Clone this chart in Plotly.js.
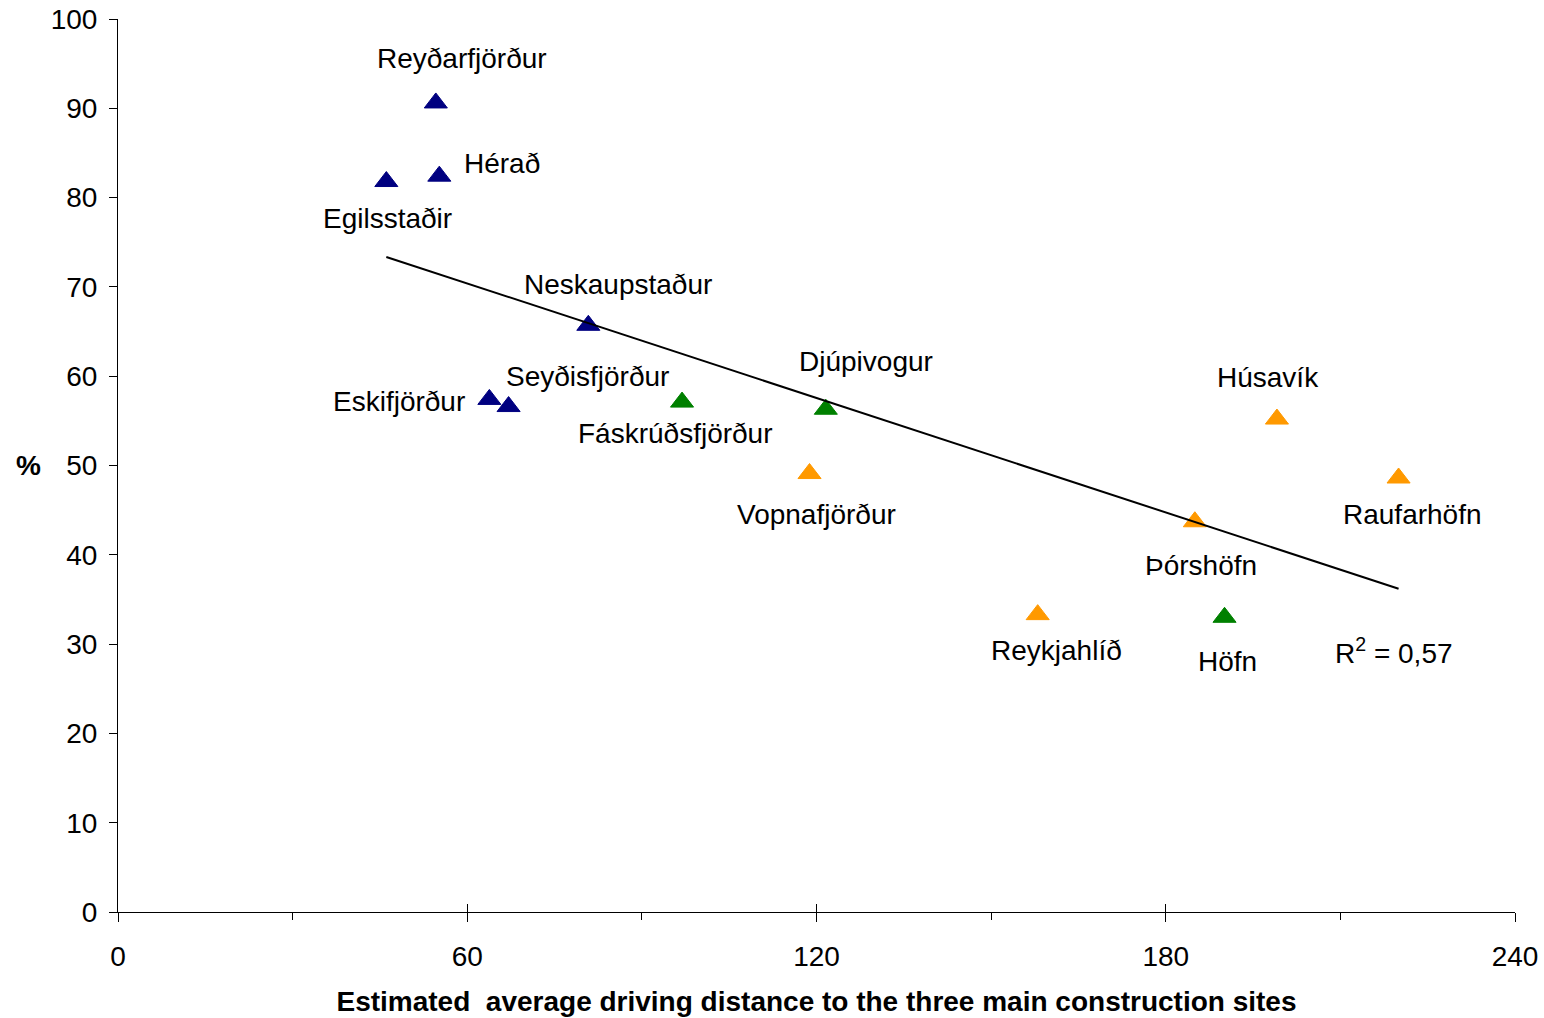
<!DOCTYPE html>
<html>
<head>
<meta charset="utf-8">
<script src="https://cdn.plot.ly/plotly-3.0.1.min.js"></script>
<style>
html,body{margin:0;padding:0;background:#fff;}
#chart{width:1544px;height:1018px;}
</style>
</head>
<body>
<div id="chart"></div>
<script>
// ---- data ----
const towns = ['Reyðarfjörður','Hérað','Egilsstaðir','Neskaupstaður','Eskifjörður','Seyðisfjörður',
               'Fáskrúðsfjörður','Djúpivogur','Vopnafjörður','Húsavík','Raufarhöfn','Þórshöfn','Reykjahlíð','Höfn'];
const distance = [54.6, 55.2, 46.1, 80.8, 63.8, 67.1, 96.9, 121.6, 118.8, 199.1, 220.0, 185.0, 158.0, 190.1];
const percent  = [90.6, 82.4, 81.8, 65.7, 57.4, 56.6, 57.1, 56.3, 49.1, 55.2, 48.6, 43.7, 33.3, 33.0];
const group    = ['east','east','east','east','east','east','south','south','north','north','north','north','north','south'];
const groupOrder = ['east','south','north'];
const xTicks = [0, 60, 120, 180, 240];
const xMinorTicks = [30, 90, 150, 210];
const yTicks = [0, 10, 20, 30, 40, 50, 60, 70, 80, 90, 100];
const xTitle = 'Estimated  average driving distance to the three main construction sites';
const yTitle = '%';

// ---- styles / layout helpers ----
const groupColor = {east:'#000080', south:'#008000', north:'#FF9900'};
// label offset in pixels (dx right, dy down) from each marker
const labelShift = {
  'Reyðarfjörður':[26,-44], 'Hérað':[63,-13], 'Egilsstaðir':[1,37], 'Neskaupstaður':[30,-41],
  'Seyðisfjörður':[79,-30], 'Eskifjörður':[-90,2], 'Fáskrúðsfjörður':[-7,31], 'Djúpivogur':[40,-48],
  'Vopnafjörður':[7,41], 'Húsavík':[-9,-42], 'Raufarhöfn':[14,36], 'Þórshöfn':[6,44],
  'Reykjahlíð':[19,36], 'Höfn':[3,44]
};
const FONT = 'Liberation Sans, Arial, sans-serif';
const FS = 28;

// ---- traces ----
const traces = groupOrder.map(g => {
  const idx = towns.map((t,i)=>i).filter(i => group[i] === g);
  return {
    type:'scatter', mode:'markers',
    x: idx.map(i=>distance[i]), y: idx.map(i=>percent[i]),
    name: g, showlegend:false, hoverinfo:'skip',
    marker:{symbol:'triangle-up', size:20, color:groupColor[g], line:{width:1, color:groupColor[g]}}
  };
});

// linear trend (least squares)
const n = distance.length;
const mx = distance.reduce((a,b)=>a+b,0)/n;
const my = percent.reduce((a,b)=>a+b,0)/n;
let sxy=0, sxx=0, syy=0;
for(let i=0;i<n;i++){ const dx=distance[i]-mx, dy=percent[i]-my; sxy+=dx*dy; sxx+=dx*dx; syy+=dy*dy; }
const slope = sxy/sxx, icpt = my - slope*mx;
const r2 = (sxy*sxy)/(sxx*syy);
const xmin = Math.min(...distance), xmax = Math.max(...distance);
traces.push({
  type:'scatter', mode:'lines', xaxis:'x2', yaxis:'y',
  x:[xmin, xmax], y:[icpt+slope*xmin, icpt+slope*xmax],
  line:{color:'#000000', width:2}, showlegend:false, hoverinfo:'skip'
});

// ---- annotations ----
const annotations = towns.map((t,i) => ({
  x: distance[i], y: percent[i], xref:'x', yref:'y', text: t, showarrow:false,
  xanchor:'center', yanchor:'middle',
  xshift: labelShift[t][0], yshift: -labelShift[t][1],
  font:{family:FONT, size:FS, color:'#000'}
}));
annotations.push({
  x: xmax, y: icpt+slope*xmax, xref:'x', yref:'y',
  text: 'R<sup>2</sup> = ' + r2.toFixed(2).replace('.', ','), showarrow:false,
  xanchor:'center', yanchor:'middle', xshift:-5, yshift:-62,
  font:{family:FONT, size:FS, color:'#000'}
});
annotations.push({
  x: 0, y: 50, xref:'paper', yref:'y', text: '<b>'+yTitle+'</b>', showarrow:false,
  xanchor:'center', yanchor:'middle', xshift:-90,
  font:{family:FONT, size:FS, color:'#000'}
});

const layout = {
  width:1544, height:1018,
  margin:{l:118, r:29, t:19, b:106, pad:0},
  paper_bgcolor:'#fff', plot_bgcolor:'#fff',
  font:{family:FONT, size:FS, color:'#000'},
  showlegend:false,
  xaxis:{
    range:[0,240], tickvals:xTicks, ticktext:xTicks.map(String),
    ticks:'outside', ticklen:9, tickwidth:1, tickcolor:'#000',
    ticklabelstandoff:10,
    showline:true, linecolor:'#000', linewidth:1,
    showgrid:false, zeroline:false, fixedrange:true,
    tickfont:{family:FONT, size:FS, color:'#000'},
    minor:{tickvals:xMinorTicks, ticks:'outside', ticklen:7, tickwidth:1, tickcolor:'#000', showgrid:false},
    title:{text:'<b>'+xTitle+'</b>', font:{family:FONT, size:FS, color:'#000'}, standoff:20}
  },
  xaxis2:{
    overlaying:'x', anchor:'y', side:'bottom', range:[0,240],
    tickvals:xTicks, ticks:'inside', ticklen:8, tickwidth:1, tickcolor:'#000',
    showticklabels:false, showline:false, showgrid:false, zeroline:false, fixedrange:true
  },
  yaxis:{
    range:[0,100], tickvals:yTicks, ticktext:yTicks.map(String),
    ticks:'outside', ticklen:8, tickwidth:1, tickcolor:'#000',
    ticklabelstandoff:6,
    showline:true, linecolor:'#000', linewidth:1,
    showgrid:false, zeroline:false, fixedrange:true,
    tickfont:{family:FONT, size:FS, color:'#000'}
  },
  annotations: annotations
};

Plotly.newPlot('chart', traces, layout, {displayModeBar:false, staticPlot:true});
</script>
</body>
</html>
